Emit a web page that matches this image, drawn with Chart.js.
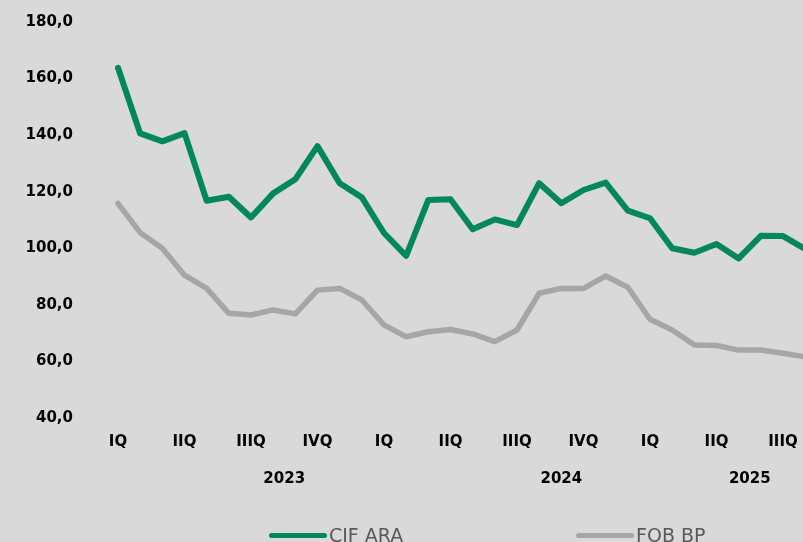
<!DOCTYPE html>
<html lang="pt">
<head>
<meta charset="utf-8">
<title>CIF ARA vs FOB BP</title>
<script src="https://cdn.jsdelivr.net/npm/chart.js@4.4.1/dist/chart.umd.min.js"></script>
<style>
  html, body { margin: 0; padding: 0; background: #d9d9d9; overflow: hidden; }
  .wrap { position: relative; width: 803px; height: 542px; }
  #priceChart { position: absolute; left: 0; top: 0; }
  .legend-item { position: absolute; top: 526px; height: 19px; font: 19px 'DejaVu Sans', sans-serif; line-height: 19px; color: #595959; white-space: nowrap; }
  .legend-line { position: absolute; top: 533px; height: 5px; width: 58px; border-radius: 3px; }
</style>
</head>
<body>
<div class="wrap">
  <canvas id="priceChart" width="803" height="542"></canvas>
  <div class="legend-line" style="left:269px;background:#00875a"></div>
  <div class="legend-item" style="left:329px">CIF ARA</div>
  <div class="legend-line" style="left:576px;background:#a6a6a6"></div>
  <div class="legend-item" style="left:636px">FOB BP</div>
</div>
<script>
// ── Data (monthly, Jan 2023 → Aug 2025) ──────────────────────────────────
const cifAra = [
  163.1, 139.9, 137.1, 140.0, 116.1, 117.5, 110.2, 118.7, 123.7, 135.4, 122.3, 117.3,
  104.7, 96.6, 116.4, 116.6, 106.0, 109.5, 107.5, 122.3, 115.2, 119.9, 122.5, 112.6,
  109.9, 99.3, 97.7, 100.8, 95.7, 103.7, 103.6, 99.0
];
const fobBp = [
  115.2, 104.8, 99.3, 89.8, 85.1, 76.3, 75.7, 77.5, 76.1, 84.5, 85.1, 81.0,
  72.2, 68.0, 69.8, 70.6, 69.0, 66.3, 70.4, 83.4, 85.1, 85.1, 89.5, 85.5,
  74.2, 70.4, 65.1, 64.9, 63.3, 63.3, 62.2, 60.9
];
const quarterLabels = ['IQ', 'IIQ', 'IIIQ', 'IVQ', 'IQ', 'IIQ', 'IIIQ', 'IVQ', 'IQ', 'IIQ', 'IIIQ'];
const quarterPos    = [0, 3, 6, 9, 12, 15, 18, 21, 24, 27, 30];
const yearLabels    = ['2023', '2024', '2025'];
const yearPos       = [7.5, 20, 28.5];
const yTicks        = [40, 60, 80, 100, 120, 140, 160, 180];

// ── Chart ─────────────────────────────────────────────────────────────────
const TICK_FONT = { family: "'DejaVu Sans', sans-serif", size: 15, weight: 'bold' };
const X_MIN = -1.263;
const X_MAX = 30.902;

const toPoints = arr => arr.map((v, i) => ({ x: i, y: v }));

// keep the plot area exactly where the layout padding puts it
const noScalePadding = s => {
  s.paddingLeft = 0; s.paddingRight = 0;
  s.paddingTop = 0;  s.paddingBottom = 0;
};

new Chart(document.getElementById('priceChart'), {
  type: 'line',
  data: {
    datasets: [
      {
        label: 'CIF ARA',
        data: toPoints(cifAra),
        borderColor: '#00875a',
        borderWidth: 6,
        xAxisID: 'x',
      },
      {
        label: 'FOB BP',
        data: toPoints(fobBp),
        borderColor: '#a6a6a6',
        borderWidth: 5.5,
        xAxisID: 'x',
      },
    ],
  },
  options: {
    responsive: false,
    animation: false,
    layout: { padding: { top: 20, right: 0, bottom: 46, left: 0 } },
    elements: {
      point: { radius: 0 },
      line: { tension: 0, borderCapStyle: 'round', borderJoinStyle: 'round' },
    },
    plugins: { legend: { display: false }, tooltip: { enabled: false } },
    scales: {
      y: {
        min: 40,
        max: 180,
        grid: { display: false, drawTicks: false },
        border: { display: false },
        afterFit: s => { s.width = 90; noScalePadding(s); },
        afterBuildTicks: s => { s.ticks = yTicks.map(v => ({ value: v })); },
        ticks: {
          padding: 17,
          labelOffset: 2,
          color: '#000',
          font: TICK_FONT,
          callback: v => v.toFixed(1).replace('.', ','),
        },
      },
      x: {
        type: 'linear',
        position: 'bottom',
        min: X_MIN,
        max: X_MAX,
        grid: { display: false, drawTicks: false },
        border: { display: false },
        afterFit: s => { s.height = 40; noScalePadding(s); },
        afterBuildTicks: s => { s.ticks = quarterPos.map(v => ({ value: v })); },
        ticks: {
          padding: 17,
          autoSkip: false,
          maxRotation: 0,
          color: '#000',
          font: TICK_FONT,
          callback: (v, i) => quarterLabels[i],
        },
      },
      x2: {
        type: 'linear',
        position: 'bottom',
        min: X_MIN,
        max: X_MAX,
        grid: { display: false, drawTicks: false },
        border: { display: false },
        afterFit: s => { s.height = 40; noScalePadding(s); },
        afterBuildTicks: s => { s.ticks = yearPos.map(v => ({ value: v })); },
        ticks: {
          padding: 14,
          autoSkip: false,
          maxRotation: 0,
          color: '#000',
          font: TICK_FONT,
          callback: (v, i) => yearLabels[i],
        },
      },
    },
  },
});
</script>
</body>
</html>
